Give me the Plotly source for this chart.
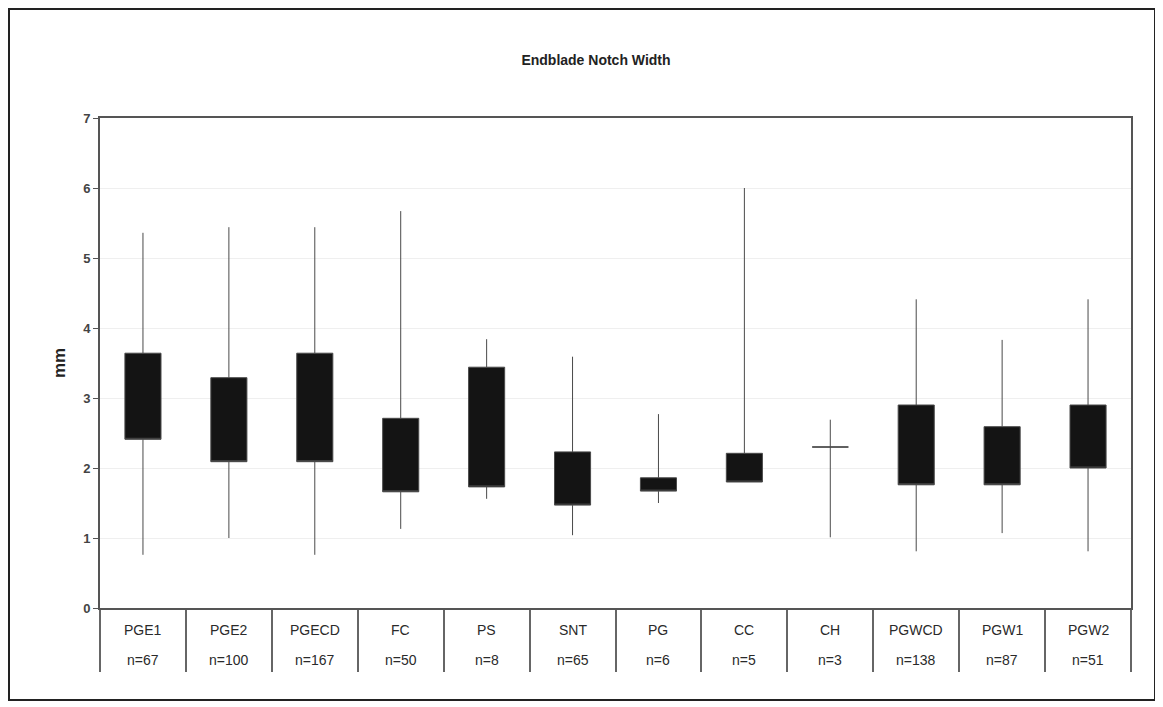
"""
    Endblade notch width by group, drawn as high-low boxes
"""

import plotly.graph_objects as go

## data
groups = ['PGE1', 'PGE2', 'PGECD', 'FC', 'PS', 'SNT', 'PG', 'CC', 'CH', 'PGWCD', 'PGW1', 'PGW2']
counts = ['n=67', 'n=100', 'n=167', 'n=50', 'n=8', 'n=65', 'n=6', 'n=5', 'n=3', 'n=138', 'n=87', 'n=51']
maxima = [5.36, 5.44, 5.44, 5.67, 3.84, 3.59, 2.77, 6.00, 2.69, 4.41, 3.83, 4.41]
upper = [3.64, 3.29, 3.64, 2.71, 3.44, 2.23, 1.86, 2.21, 2.30, 2.90, 2.59, 2.90]
lower = [2.41, 2.09, 2.09, 1.66, 1.73, 1.47, 1.67, 1.80, 2.30, 1.76, 1.76, 2.00]
minima = [0.76, 1.00, 0.76, 1.13, 1.56, 1.04, 1.50, 1.80, 1.01, 0.81, 1.07, 0.81]
y_ticks = [0, 1, 2, 3, 4, 5, 6, 7]

FONT = 'Liberation Sans, Arial, sans-serif'
INK = '#2a2a2a'

## the page puts the plot 8px in from the window edge, so the figure is 8px smaller
W, H = 1155, 699
L, R, T, B = 92, 32, 110, 99
PW, PH = W - L - R, H - T - B


def set_up_figure() -> go.Figure:
    fig = go.Figure()
    fig.update_layout(
        width=W, height=H,
        margin=dict(l=L, r=R, t=T, b=B),
        plot_bgcolor='white', paper_bgcolor='white',
        font=dict(family=FONT, size=12, color=INK),
        showlegend=False,
        title=dict(
            text='<b>Endblade Notch Width</b>', font=dict(size=14, color='#222'),
            x=588 / W, xref='container', xanchor='center',
            y=1 - 52 / H, yref='container', yanchor='middle'),
        xaxis=dict(
            type='category', categoryorder='array', categoryarray=groups,
            range=[-0.5, len(groups) - 0.5],
            showticklabels=False, ticks='outside', tickson='boundaries',
            ticklen=62, tickwidth=1.5, tickcolor='#666',
            showline=True, linecolor='#555', linewidth=2, mirror=True,
            showgrid=False, zeroline=False),
        yaxis=dict(
            range=[0, 7], tickvals=y_ticks, ticks='outside', ticklen=5,
            tickcolor='#555', tickfont=dict(size=13, color='#444', weight='bold'),
            showline=True, linecolor='#555', linewidth=2, mirror=True,
            showgrid=True, gridcolor='#efefef', gridwidth=1, zeroline=False,
            title=dict(text='<b>mm</b>', font=dict(size=17, color='#222'), standoff=13)),
    )
    return fig


def draw_boxes() -> go.Box:
    return go.Box(
        x=groups, q1=lower, median=lower, q3=upper,
        lowerfence=minima, upperfence=maxima,
        width=0.42, whiskerwidth=0,
        fillcolor='#141414', line=dict(color='#4a4a4a', width=1),
        hoverinfo='skip')


def add_labels(fig):
    for name, n in zip(groups, counts):
        fig.add_annotation(x=name, y=-22 / PH, xref='x', yref='paper', text=name,
                           showarrow=False, yanchor='middle',
                           font=dict(size=14, color=INK))
        fig.add_annotation(x=name, y=-52 / PH, xref='x', yref='paper', text=n,
                           showarrow=False, yanchor='middle',
                           font=dict(size=14, color=INK))
    ## outer frame round the whole chart
    fig.add_shape(type='rect', xref='paper', yref='paper',
                  x0=(1 - L) / PW, x1=(1147 - L) / PW,
                  y0=-(B - 7) / PH, y1=(PH + T - 1) / PH,
                  line=dict(color='#222', width=2), layer='below')
    return fig


fig = set_up_figure()
fig.add_trace(draw_boxes())
fig = add_labels(fig)
fig.write_html('out.html')
